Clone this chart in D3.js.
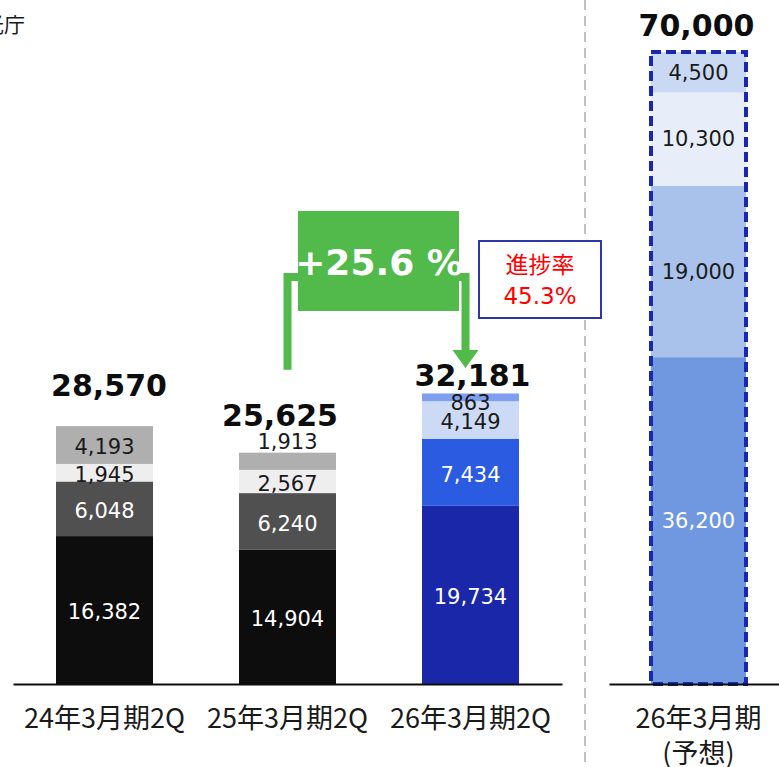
<!DOCTYPE html>
<html>
<head>
<meta charset="utf-8">
<script src="https://cdn.jsdelivr.net/npm/d3@7"></script>
<style>
  body { margin: 0; background: #fff; }
  svg { display: block; }
</style>
</head>
<body>
<div id="content"></div>
<script>
// datos
var categories = ["24年3月期2Q", "25年3月期2Q", "26年3月期2Q"];
var forecastCategory = "26年3月期";
var forecastNote = "(予想)";
var totals = [28570, 25625, 32181];
var forecastTotal = 70000;
// segmentos, de abajo hacia arriba
var segBottom = [16382, 14904, 19734];
var segSecond = [6048, 6240, 7434];
var segThird = [1945, 2567, 4149];
var segTop = [4193, 1913, 863];
var forecastSegments = [36200, 19000, 10300, 4500];
var growthLabel = "+25.6 %";
var progressLabel = ["進捗率", "45.3%"];
var unitLabel = "観光庁";

// dimensiones
var width = 779;
var height = 767;
var baseY = 684;

var svg = d3.select("#content")
  .append("svg")
  .attr("width", width)
  .attr("height", height);

var numFont = "'DejaVu Sans', Verdana, sans-serif";
var jpFont = "'Noto Sans CJK JP', 'Noto Sans', sans-serif";

var grayColors = ["#0d0d0d", "#505050", "#eeeeee", "#afafaf"];
var blueColors = ["#1a27a8", "#2b5be0", "#cddaf5", "#7f9ef0"];
var forecastColors = ["#6f98e1", "#a9c2ec", "#e8eef9", "#c9d9f3"];
var textColors = ["#ffffff", "#ffffff", "#1a1a1a", "#1a1a1a"];
var forecastTextColors = ["#ffffff", "#1a1a1a", "#1a1a1a", "#1a1a1a"];

var x = d3.scaleBand()
  .domain(categories)
  .range([13, 562])
  .paddingInner(0.47)
  .paddingOuter(0.235);

var xf = d3.scaleBand()
  .domain([forecastCategory])
  .range([609, 788])
  .paddingInner(0)
  .paddingOuter(0.442);

var y = d3.scaleLinear()
  .domain([0, forecastTotal])
  .range([baseY, 52]);

// separador
svg.append("line")
  .attr("x1", 585).attr("x2", 585)
  .attr("y1", 0).attr("y2", height)
  .attr("stroke", "#c0c0c0")
  .attr("stroke-width", 2)
  .attr("stroke-dasharray", "10,6");

// unidad (cortada)
svg.append("text")
  .attr("x", 25).attr("y", 32)
  .attr("text-anchor", "end")
  .style("font-family", jpFont)
  .style("font-size", "21px")
  .style("fill", "#1a1a1a")
  .text(unitLabel);

// pilas
var keys = ["s0", "s1", "s2", "s3"];
var rows = categories.map(function(c, i) {
  return { cat: c, i: i, s0: segBottom[i], s1: segSecond[i], s2: segThird[i], s3: segTop[i] };
});
var stacked = d3.stack().keys(keys)(rows);

var layers = svg.append("g").selectAll("g")
  .data(stacked)
  .enter().append("g");

layers.selectAll("rect")
  .data(function(layer) { return layer.map(function(d) { return { k: layer.index, d: d }; }); })
  .enter().append("rect")
  .attr("x", function(o) { return x(o.d.data.cat); })
  .attr("width", x.bandwidth())
  .attr("y", function(o) { return y(o.d[1]); })
  .attr("height", function(o) { return y(o.d[0]) - y(o.d[1]); })
  .attr("fill", function(o) { return o.d.data.i === 2 ? blueColors[o.k] : grayColors[o.k]; });

layers.selectAll("text")
  .data(function(layer) { return layer.map(function(d) { return { k: layer.index, d: d }; }); })
  .enter().append("text")
  .attr("x", function(o) { return x(o.d.data.cat) + x.bandwidth() / 2; })
  .attr("y", function(o) {
    var i = o.d.data.i;
    if (o.k === 3 && i === 1) return y(o.d[1]) - 11;
    if (o.k === 3 && i === 2) return y(o.d[1]) + 9;
    return (y(o.d[0]) + y(o.d[1])) / 2 + 2;
  })
  .attr("dy", "0.35em")
  .attr("text-anchor", "middle")
  .style("font-family", numFont)
  .style("font-size", "21px")
  .style("fill", function(o) { return textColors[o.k]; })
  .text(function(o) { return d3.format(",")(o.d.data[keys[o.k]]); });

// totales
var totalGap = [30, 27, 7];
var totalShift = [4.5, -7.5, 2];
svg.append("g").selectAll("text")
  .data(totals)
  .enter().append("text")
  .attr("x", function(d, i) { return x(categories[i]) + x.bandwidth() / 2 + totalShift[i]; })
  .attr("y", function(d, i) { return y(d) - totalGap[i]; })
  .attr("text-anchor", "middle")
  .style("font-family", numFont)
  .style("font-size", "30px")
  .style("font-weight", "bold")
  .style("fill", "#0d0d0d")
  .text(function(d) { return d3.format(",")(d); });

// pronostico
var fStack = d3.cumsum(forecastSegments);
var fData = forecastSegments.map(function(v, k) {
  return { v: v, k: k, y0: fStack[k] - v, y1: fStack[k] };
});
var fg = svg.append("g");
fg.selectAll("rect")
  .data(fData)
  .enter().append("rect")
  .attr("x", xf(forecastCategory))
  .attr("width", xf.bandwidth())
  .attr("y", function(d) { return y(d.y1); })
  .attr("height", function(d) { return y(d.y0) - y(d.y1); })
  .attr("fill", function(d) { return forecastColors[d.k]; });

fg.selectAll("text")
  .data(fData)
  .enter().append("text")
  .attr("x", xf(forecastCategory) + xf.bandwidth() / 2)
  .attr("y", function(d) { return (y(d.y0) + y(d.y1)) / 2; })
  .attr("dy", "0.35em")
  .attr("text-anchor", "middle")
  .style("font-family", numFont)
  .style("font-size", "21px")
  .style("fill", function(d) { return forecastTextColors[d.k]; })
  .text(function(d) { return d3.format(",")(d.v); });

fg.append("rect")
  .attr("x", xf(forecastCategory))
  .attr("width", xf.bandwidth())
  .attr("y", y(forecastTotal))
  .attr("height", y(0) - y(forecastTotal))
  .attr("fill", "none")
  .attr("stroke", "#1a28b0")
  .attr("stroke-width", 4)
  .attr("stroke-dasharray", "10,5");

fg.append("text")
  .attr("x", xf(forecastCategory) + xf.bandwidth() / 2 - 2)
  .attr("y", y(forecastTotal) - 16)
  .attr("text-anchor", "middle")
  .style("font-family", numFont)
  .style("font-size", "30px")
  .style("font-weight", "bold")
  .style("fill", "#0d0d0d")
  .text(d3.format(",")(forecastTotal));

// ejes
var axis = svg.append("g")
  .attr("transform", "translate(0," + baseY + ")")
  .call(d3.axisBottom(x).tickSize(0).tickSizeOuter(0));

var axisF = svg.append("g")
  .attr("transform", "translate(0," + baseY + ")")
  .call(d3.axisBottom(xf).tickSize(0).tickSizeOuter(0).tickFormat(""));

[axis, axisF].forEach(function(a) {
  a.select(".domain").attr("stroke", "#0d0d0d").attr("stroke-width", 2);
});

axis.selectAll("text")
  .attr("y", 35)
  .attr("dy", "0.35em")
  .style("font-family", jpFont)
  .style("font-size", "27px")
  .style("fill", "#1a1a1a");

var fLabel = svg.append("text")
  .attr("text-anchor", "middle")
  .style("font-family", jpFont)
  .style("font-size", "27px")
  .style("fill", "#1a1a1a");
fLabel.append("tspan")
  .attr("x", xf(forecastCategory) + xf.bandwidth() / 2)
  .attr("y", baseY + 35)
  .attr("dy", "0.35em")
  .text(forecastCategory);
fLabel.append("tspan")
  .attr("x", xf(forecastCategory) + xf.bandwidth() / 2)
  .attr("y", baseY + 70)
  .attr("dy", "0.35em")
  .text(forecastNote);

// flecha de crecimiento
var leftX = x(categories[1]) + x.bandwidth() / 2;
var rightX = x(categories[2]) + x.bandwidth() / 2 - 5;
var topY = 277;
svg.append("path")
  .attr("d", "M" + leftX + "," + (y(totals[1]) - 83) + "V" + topY + "H" + rightX + "V" + 352)
  .attr("fill", "none")
  .attr("stroke", "#52b94b")
  .attr("stroke-width", 8);

svg.append("path")
  .attr("d", "M" + (rightX - 13) + ",350L" + (rightX + 13) + ",350L" + rightX + ",368Z")
  .attr("fill", "#52b94b");

svg.append("rect")
  .attr("x", 298).attr("y", 211)
  .attr("width", 161).attr("height", 100)
  .attr("fill", "#52b94b");

svg.append("text")
  .attr("x", 379).attr("y", 275)
  .attr("text-anchor", "middle")
  .style("font-family", numFont)
  .style("font-size", "36px")
  .style("font-weight", "bold")
  .style("fill", "#ffffff")
  .text(growthLabel);

// progreso
svg.append("rect")
  .attr("x", 479).attr("y", 241)
  .attr("width", 122).attr("height", 77)
  .attr("fill", "#ffffff")
  .attr("stroke", "#2b36a8")
  .attr("stroke-width", 2);

svg.append("g").selectAll("text")
  .data(progressLabel)
  .enter().append("text")
  .attr("x", 540)
  .attr("y", function(d, i) { return 265 + i * 31; })
  .attr("dy", "0.35em")
  .attr("text-anchor", "middle")
  .style("font-family", "'DejaVu Sans', 'Noto Sans CJK JP', sans-serif")
  .style("font-size", "23px")
  .style("fill", "#ff0000")
  .text(function(d) { return d; });
</script>
</body>
</html>
